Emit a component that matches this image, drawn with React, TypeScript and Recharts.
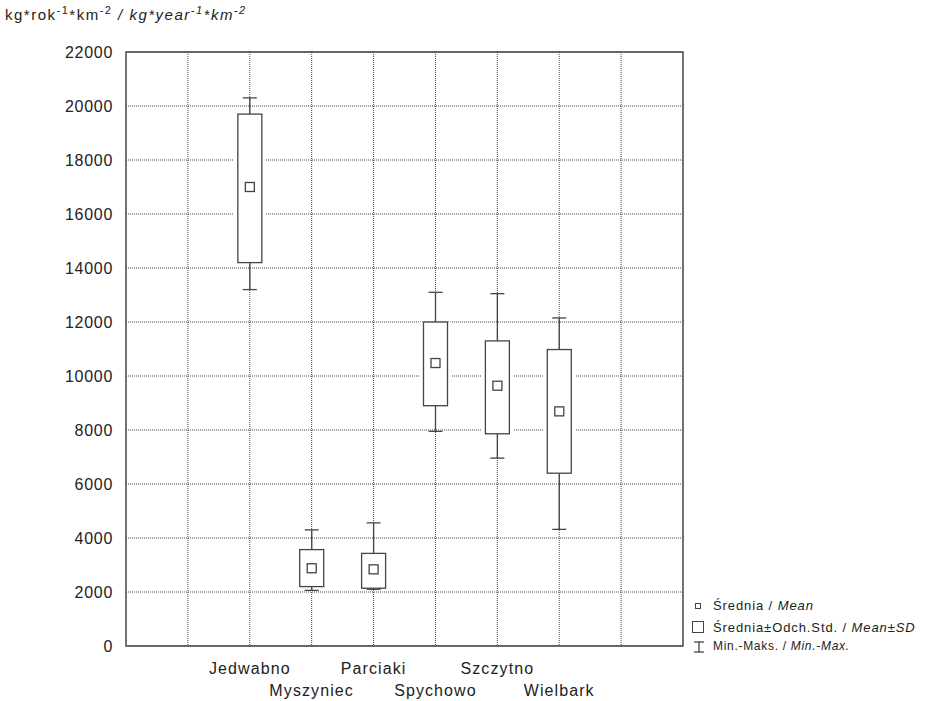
import React from "react";
import {
  ComposedChart, Bar, XAxis, YAxis, CartesianGrid, ReferenceArea,
} from "recharts";

const sites = ["Jedwabno", "Myszyniec", "Parciaki", "Spychowo", "Szczytno", "Wielbark"];
const positions = [2, 3, 4, 5, 6, 7];
const mins = [13200, 2060, 2100, 7950, 6960, 4320];
const sdLow = [14200, 2200, 2140, 8900, 7860, 6400];
const means = [17000, 2880, 2840, 10480, 9640, 8690];
const sdHigh = [19700, 3570, 3430, 12000, 11300, 10980];
const maxs = [20300, 4300, 4560, 13100, 13050, 12150];

const xTicks = [1, 2, 3, 4, 5, 6, 7, 8];
const yTicks = [0, 2000, 4000, 6000, 8000, 10000, 12000, 14000, 16000, 18000, 20000, 22000];

const data = sites.map((name, i) => ({
  name,
  pos: positions[i],
  min: mins[i],
  lo: sdLow[i],
  mean: means[i],
  hi: sdHigh[i],
  max: maxs[i],
}));

const FONT = "'Liberation Sans', Arial, sans-serif";
const INK = "#444";

// whiskers + box + mean square, all placed inside the min..max bar the scale gives us
function BoxShape(props: any) {
  const { x, y, width, height, payload } = props;
  const top = Math.min(y, y + height);
  const h = Math.abs(height);
  const span = payload.max - payload.min;
  const toY = (v: number) => top + (h * (payload.max - v)) / span;
  const cx = x + width / 2;
  const yMax = toY(payload.max);
  const yMin = toY(payload.min);
  const yHi = toY(payload.hi);
  const yLo = toY(payload.lo);
  const yMean = toY(payload.mean);
  const cap = 7;
  const m = 4.5;
  return (
    <g>
      <line x1={cx} x2={cx} y1={yMax} y2={yHi} stroke={INK} strokeWidth={1.3} />
      <line x1={cx} x2={cx} y1={yLo} y2={yMin} stroke={INK} strokeWidth={1.3} />
      <line x1={cx - cap} x2={cx + cap} y1={yMax} y2={yMax} stroke={INK} strokeWidth={1.3} />
      <line x1={cx - cap} x2={cx + cap} y1={yMin} y2={yMin} stroke={INK} strokeWidth={1.3} />
      <rect x={x - 4} y={yHi} width={width + 8} height={yLo - yHi} fill="#fff" />
      <rect x={x} y={yHi} width={width} height={yLo - yHi} fill="#fff" stroke={INK} strokeWidth={1.3} />
      <rect x={cx - m} y={yMean - m} width={2 * m} height={2 * m} fill="#fff" stroke={INK} strokeWidth={1.3} />
    </g>
  );
}

function SiteTick(props: any) {
  const { x, y, payload } = props;
  const i = positions.indexOf(payload.value);
  if (i < 0) return null;
  const dy = i % 2 === 0 ? 20 : 42;
  return (
    <text x={x} y={y + dy} textAnchor="middle" fontFamily={FONT} fontSize={16} letterSpacing={1.1} fill="#222">
      {sites[i]}
    </text>
  );
}

function Legend() {
  const row: React.CSSProperties = {
    position: "absolute", left: 713, fontSize: 13, letterSpacing: 0.9, color: "#222", whiteSpace: "nowrap",
  };
  return (
    <>
      <div style={{ position: "absolute", left: 695, top: 603, width: 4, height: 4, border: `1px solid ${INK}` }} />
      <div style={{ ...row, top: 598 }}>Średnia / <i>Mean</i></div>
      <div style={{ position: "absolute", left: 692, top: 621, width: 10, height: 10, border: `1px solid ${INK}` }} />
      <div style={{ ...row, top: 620 }}>Średnia±Odch.Std. / <i>Mean±SD</i></div>
      <svg style={{ position: "absolute", left: 692, top: 641 }} width={14} height={12}>
        <line x1={2} x2={12} y1={1} y2={1} stroke={INK} strokeWidth={1.3} />
        <line x1={7} x2={7} y1={1} y2={11} stroke={INK} strokeWidth={1.3} />
        <line x1={2} x2={12} y1={11} y2={11} stroke={INK} strokeWidth={1.3} />
      </svg>
      <div style={{ ...row, top: 639, fontSize: 12, letterSpacing: 0.7 }}>Min.-Maks. / <i>Min.-Max.</i></div>
    </>
  );
}

export default function App() {
  const sup: React.CSSProperties = { fontSize: 11 };
  return (
    <div style={{ position: "absolute", left: 0, top: 0, width: 927, height: 701, background: "#fff", fontFamily: FONT }}>
      <div style={{ position: "absolute", left: 5, top: 4, fontSize: 15, letterSpacing: 1.5, color: "#222", whiteSpace: "nowrap" }}>
        kg*rok<sup style={sup}>-1</sup>*km<sup style={sup}>-2</sup>
        <i> / kg*year<sup style={sup}>-1</sup>*km<sup style={sup}>-2</sup></i>
      </div>
      <ComposedChart width={927} height={701} data={data} margin={{ top: 52, right: 244, bottom: 0, left: 0 }}>
        <CartesianGrid stroke={INK} strokeDasharray="1 1" />
        <XAxis
          dataKey="pos"
          type="number"
          domain={[0, 9]}
          ticks={xTicks}
          interval={0}
          height={55}
          axisLine={false}
          tickLine={false}
          tick={<SiteTick />}
        />
        <YAxis
          type="number"
          domain={[0, 22000]}
          ticks={yTicks}
          interval={0}
          width={126}
          axisLine={false}
          tickLine={false}
          tickSize={6}
          tickMargin={7}
          tick={{ fontFamily: FONT, fontSize: 16, fill: "#222", letterSpacing: 0.7 }}
        />
        <ReferenceArea x1={0} x2={9} y1={0} y2={22000} fill="none" stroke={INK} strokeWidth={1.3} fillOpacity={0} />
        <Bar
          dataKey={(d: any) => [d.min, d.max]}
          barSize={24}
          shape={<BoxShape />}
          isAnimationActive={false}
        />
      </ComposedChart>
      <Legend />
    </div>
  );
}
